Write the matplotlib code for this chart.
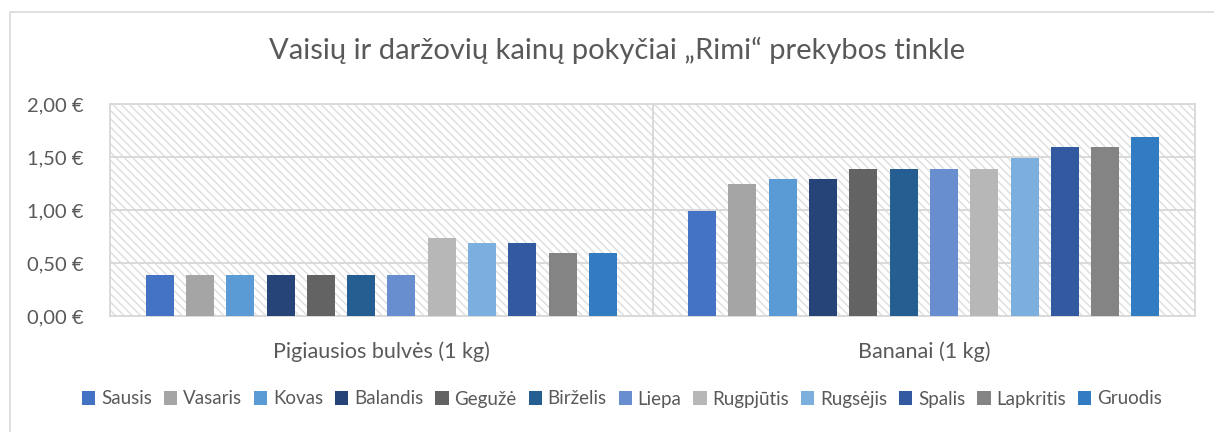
import numpy as np
import matplotlib
matplotlib.use('Agg')
from matplotlib import pyplot as plt
from matplotlib.patches import Rectangle
from matplotlib.ticker import FuncFormatter

plt.rcParams['font.family'] = ['Lato', 'DejaVu Sans']
plt.rcParams['hatch.linewidth'] = 1.1

categories = ['Pigiausios bulvės (1 kg)', 'Bananai (1 kg)']
months = ['Sausis', 'Vasaris', 'Kovas', 'Balandis', 'Gegužė', 'Birželis',
          'Liepa', 'Rugpjūtis', 'Rugsėjis', 'Spalis', 'Lapkritis', 'Gruodis']
potatoes = [0.39, 0.39, 0.39, 0.39, 0.39, 0.39, 0.39, 0.74, 0.69, 0.69, 0.59, 0.59]
bananas = [0.99, 1.25, 1.29, 1.29, 1.39, 1.39, 1.39, 1.39, 1.49, 1.59, 1.59, 1.69]
colors = ['#4472C4', '#A5A5A5', '#5B9BD5', '#264478', '#636363', '#255E91',
          '#698ED0', '#B7B7B7', '#7CAFDD', '#335AA1', '#848484', '#327DC2']

W, H = 1214, 432
fig = plt.figure(figsize=(W / 100, H / 100), dpi=100)
fig.patch.set_facecolor('white')

# outer chart frame (cut off at right/bottom like the screenshot)
fig.add_artist(Rectangle((10 / W, -0.1), 1.1, 1 - 12 / H + 0.1, transform=fig.transFigure,
                         fill=False, edgecolor='#D9D9D9', lw=1.2))

ax = fig.add_axes([110 / W, 1 - 316 / H, (1195 - 110) / W, (316 - 104) / H])

# hatched plot area
ax.add_patch(Rectangle((0, 0), 1, 1, transform=ax.transAxes, fill=False,
                       hatch='\\\\\\\\', edgecolor='#E0E0E0', lw=0, zorder=0))

step = 40.3 / (1195 - 110) * 2
bw = 28 / (1195 - 110) * 2
x = np.arange(len(categories))
values = np.array([potatoes, bananas])
for i, m in enumerate(months):
    ax.bar(x + (i - 5.5) * step, values[:, i], width=bw, color=colors[i],
           label=m, zorder=3)

ax.set_xlim(-0.5, 1.5)
ax.set_ylim(0, 2.0)
ax.set_yticks([0, 0.5, 1.0, 1.5, 2.0])
ax.yaxis.set_major_formatter(FuncFormatter(lambda v, p: f'{v:.2f} €'.replace('.', ',')))
ax.set_xticks(x)
ax.set_xticklabels(categories)
ax.tick_params(axis='both', length=0, colors='#595959')
ax.tick_params(axis='y', pad=19, labelsize=14.5)
ax.tick_params(axis='x', pad=18, labelsize=15.5)

for v in [0.5, 1.0, 1.5]:
    ax.axhline(v, color='#D9D9D9', lw=1.4, zorder=1)
ax.axvline(0.5, color='#D9D9D9', lw=1.4, zorder=1)
for s in ax.spines.values():
    s.set_color('#D9D9D9')
    s.set_linewidth(1.4)

fig.text(617 / W, 1 - 50 / H, 'Vaisių ir daržovių kainų pokyčiai „Rimi“ prekybos tinkle',
         ha='center', va='center', fontsize=21, color='#595959')

leg = fig.legend(loc='center', bbox_to_anchor=(622 / W, 1 - 399 / H), ncol=12,
                 frameon=False, fontsize=13.5, handlelength=0.7, handleheight=0.7,
                 handletextpad=0.3, columnspacing=0.65, borderaxespad=0)
for t in leg.get_texts():
    t.set_color('#595959')

fig.savefig('out.png', dpi=100)
